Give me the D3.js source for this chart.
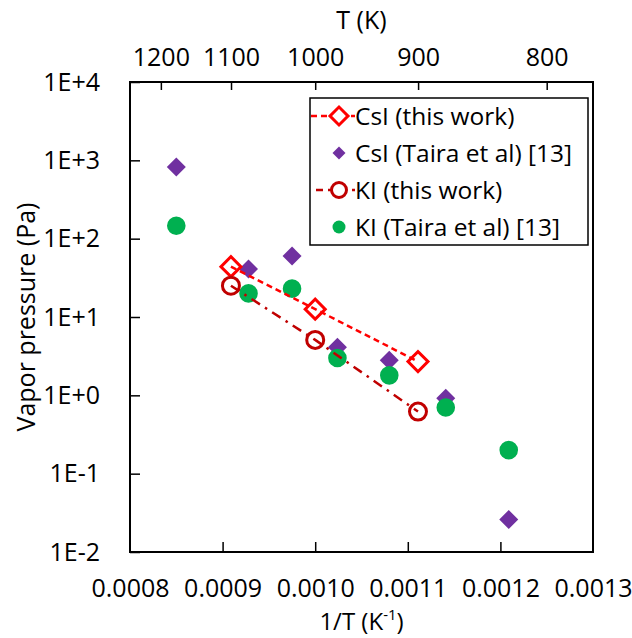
<!DOCTYPE html>
<html>
<head>
<meta charset="utf-8">
<script src="https://cdn.jsdelivr.net/npm/d3@7"></script>
<style>
  body { margin: 0; background: #fff; }
  text { font-family: "Open Sans", "Noto Sans", sans-serif; fill: #000; }
  .axis path, .axis line { stroke: #000; }
  .axis text { font-size: 25px; }
</style>
</head>
<body>
<div id="chart"></div>
<script>
// 1/T values (K^-1) and vapor pressures (Pa)
const thisWorkX = [0.000909, 0.001000, 0.001111];
const csiThisP = [43.9, 12.6, 2.7];
const kiThisP = [25.1, 5.1, 0.62];

const tairaX = [0.000850, 0.000928, 0.000975, 0.001024, 0.001080, 0.001141, 0.001209];
const csiTairaP = [820, 41, 60, 4.1, 2.8, 0.92, 0.026];
const kiTairaP = [146, 20, 23, 3.0, 1.8, 0.70, 0.20];

const xTicks = [0.0008, 0.0009, 0.0010, 0.0011, 0.0012, 0.0013];
const yTicks = [1e-2, 1e-1, 1e0, 1e1, 1e2, 1e3, 1e4];
const topTicksT = [1200, 1100, 1000, 900, 800];

const legendNames = ["CsI (this work)", "CsI (Taira et al) [13]", "KI (this work)", "KI (Taira et al) [13]"];

const width = 632, height = 638;
const margin = { top: 82, right: 39, bottom: 86, left: 130 };

const svg = d3.select("#chart").append("svg")
  .attr("width", width)
  .attr("height", height);

const x = d3.scaleLinear()
  .domain([0.0008, 0.0013])
  .range([margin.left, width - margin.right]);

const y = d3.scaleLog()
  .domain([1e-2, 1e4])
  .range([height - margin.bottom, margin.top]);

const fmtY = d => {
  const e = Math.round(Math.log10(d));
  return "1E" + (e >= 0 ? "+" : "-") + Math.abs(e);
};

// bottom axis
const xAxis = d3.axisBottom(x)
  .tickValues(xTicks)
  .tickSize(-10)
  .tickSizeOuter(0)
  .tickPadding(27)
  .tickFormat(d3.format(".4f"));

svg.append("g")
  .attr("class", "axis xAxis")
  .attr("transform", `translate(0, ${height - margin.bottom})`)
  .call(xAxis)
  .call(g => g.select(".domain").remove())
  .selectAll(".tick line")
  .attr("stroke-width", 1.5)
  .filter(d => d == 0.0008 || d == 0.0013).remove();

// left axis
const yAxis = d3.axisLeft(y)
  .tickValues(yTicks)
  .tickSize(-10)
  .tickSizeOuter(0)
  .tickPadding(30)
  .tickFormat(fmtY);

svg.append("g")
  .attr("class", "axis yAxis")
  .attr("transform", `translate(${margin.left}, 0)`)
  .call(yAxis)
  .call(g => g.select(".domain").remove())
  .selectAll(".tick line")
  .attr("stroke-width", 1.5);

// top axis in T (K)
const topAxis = d3.axisTop(x)
  .tickValues(topTicksT.map(t => 1 / t))
  .tickSize(-8)
  .tickSizeOuter(0)
  .tickPadding(16)
  .tickFormat(d => Math.round(1 / d));

svg.append("g")
  .attr("class", "axis topAxis")
  .attr("transform", `translate(0, ${margin.top})`)
  .call(topAxis)
  .call(g => g.select(".domain").remove())
  .selectAll(".tick line")
  .attr("stroke-width", 1.5);

// plot frame
svg.append("rect")
  .attr("x", x(0.0008))
  .attr("y", y(1e4))
  .attr("width", x(0.0013) - x(0.0008))
  .attr("height", y(1e-2) - y(1e4))
  .attr("fill", "none")
  .attr("stroke", "#000")
  .attr("stroke-width", 2);

// axis titles
svg.append("text")
  .attr("x", (x(0.0008) + x(0.0013)) / 2)
  .attr("y", 29)
  .attr("text-anchor", "middle")
  .style("font-size", "25px")
  .text("T (K)");

const xTitle = svg.append("text")
  .attr("x", (x(0.0008) + x(0.0013)) / 2)
  .attr("y", 630)
  .attr("text-anchor", "middle")
  .style("font-size", "24px")
  .text("1/T (K");
xTitle.append("tspan").attr("dy", -10).style("font-size", "15px").text("-1");
xTitle.append("tspan").attr("dy", 10).text(")");

svg.append("text")
  .attr("transform", `translate(35, ${(y(1e4) + y(1e-2)) / 2}) rotate(-90)`)
  .attr("text-anchor", "middle")
  .style("font-size", "25px")
  .text("Vapor pressure (Pa)");

const diamond = (h) => d3.symbol().type(d3.symbolSquare).size(2 * h * h)();
const circle = (r) => d3.symbol().type(d3.symbolCircle).size(Math.PI * r * r)();

const tairaCsi = tairaX.map((v, i) => ({ x: v, p: csiTairaP[i] }));
const tairaKi = tairaX.map((v, i) => ({ x: v, p: kiTairaP[i] }));
const csiThis = thisWorkX.map((v, i) => ({ x: v, p: csiThisP[i] }));
const kiThis = thisWorkX.map((v, i) => ({ x: v, p: kiThisP[i] }));

// Taira markers
svg.selectAll("path.csiTaira")
  .data(tairaCsi)
  .enter()
  .append("path")
  .attr("class", "csiTaira")
  .attr("d", diamond(9.5))
  .attr("transform", d => `translate(${x(d.x)}, ${y(d.p)}) rotate(45)`)
  .attr("fill", "#7030A0");

svg.selectAll("path.kiTaira")
  .data(tairaKi)
  .enter()
  .append("path")
  .attr("class", "kiTaira")
  .attr("d", circle(9.3))
  .attr("transform", d => `translate(${x(d.x)}, ${y(d.p)})`)
  .attr("fill", "#00B050");

// this work lines
const line = d3.line().x(d => x(d.x)).y(d => y(d.p));

svg.append("path")
  .datum(csiThis)
  .attr("d", line)
  .attr("fill", "none")
  .attr("stroke", "#FF0000")
  .attr("stroke-width", 2.5)
  .attr("stroke-dasharray", "6,4");

svg.append("path")
  .datum(kiThis)
  .attr("d", line)
  .attr("fill", "none")
  .attr("stroke", "#C00000")
  .attr("stroke-width", 2.5)
  .attr("stroke-dasharray", "10,6,2.5,6");

// this work markers
svg.selectAll("path.csiThis")
  .data(csiThis)
  .enter()
  .append("path")
  .attr("class", "csiThis")
  .attr("d", diamond(10))
  .attr("transform", d => `translate(${x(d.x)}, ${y(d.p)}) rotate(45)`)
  .attr("fill", "none")
  .attr("stroke", "#FF0000")
  .attr("stroke-width", 3);

svg.selectAll("path.kiThis")
  .data(kiThis)
  .enter()
  .append("path")
  .attr("class", "kiThis")
  .attr("d", circle(8.5))
  .attr("transform", d => `translate(${x(d.x)}, ${y(d.p)})`)
  .attr("fill", "none")
  .attr("stroke", "#C00000")
  .attr("stroke-width", 3);

// legend
const lg = svg.append("g").attr("class", "legend");
lg.append("rect")
  .attr("x", 310).attr("y", 98)
  .attr("width", 278).attr("height", 147)
  .attr("fill", "#fff")
  .attr("stroke", "#000")
  .attr("stroke-width", 1.5);

const rowY = [116, 153, 190, 227];
const mx = 339;

lg.append("line").attr("x1", 311).attr("x2", 355).attr("y1", rowY[0]).attr("y2", rowY[0])
  .attr("stroke", "#FF0000").attr("stroke-width", 2.5).attr("stroke-dasharray", "6,4");
lg.append("path").attr("d", diamond(9))
  .attr("transform", `translate(${mx}, ${rowY[0]}) rotate(45)`)
  .attr("fill", "#fff").attr("stroke", "#FF0000").attr("stroke-width", 3);

lg.append("path").attr("d", diamond(6.5))
  .attr("transform", `translate(${mx}, ${rowY[1]}) rotate(45)`)
  .attr("fill", "#7030A0");

lg.append("line").attr("x1", 316).attr("x2", 355).attr("y1", rowY[2]).attr("y2", rowY[2])
  .attr("stroke", "#C00000").attr("stroke-width", 2.5).attr("stroke-dasharray", "7,5");
lg.append("path").attr("d", circle(7.5))
  .attr("transform", `translate(${mx}, ${rowY[2]})`)
  .attr("fill", "#fff").attr("stroke", "#C00000").attr("stroke-width", 3);

lg.append("path").attr("d", circle(6.5))
  .attr("transform", `translate(${mx}, ${rowY[3]})`)
  .attr("fill", "#00B050");

lg.selectAll("text")
  .data(legendNames)
  .enter()
  .append("text")
  .attr("x", 355)
  .attr("y", (d, i) => rowY[i])
  .attr("dy", "0.35em")
  .style("font-size", "24.5px")
  .text(d => d);
</script>
</body>
</html>
